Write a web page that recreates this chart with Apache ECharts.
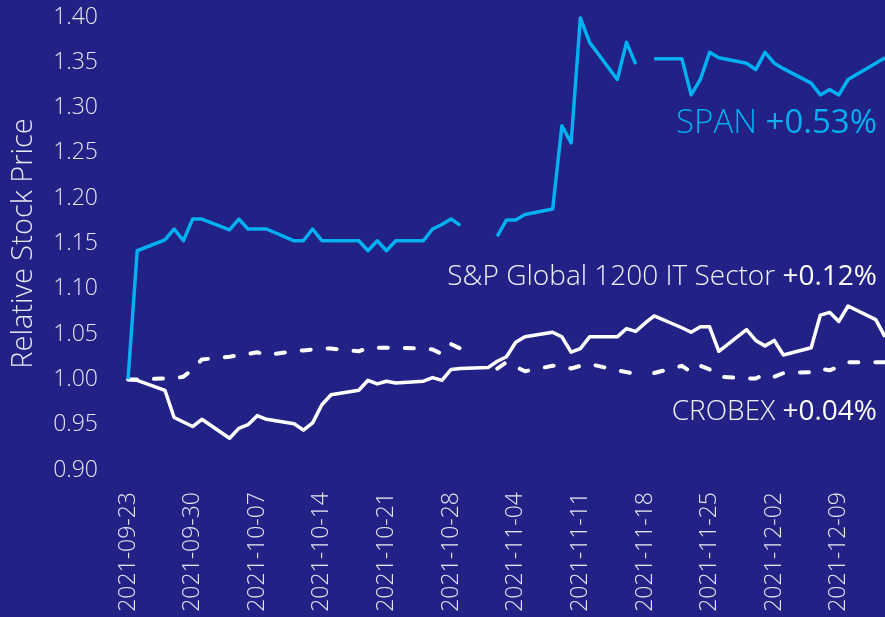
<!DOCTYPE html>
<html>
<head>
<meta charset="utf-8">
<script src="https://cdn.jsdelivr.net/npm/echarts@6/dist/echarts.min.js"></script>
<style>
html,body{margin:0;padding:0;background:#222286;}
#chart{width:885px;height:617px;}
</style>
</head>
<body>
<div id="chart"></div>
<script>
// Trading days
const dates = [
 '2021-09-23','2021-09-24','2021-09-27','2021-09-28','2021-09-29','2021-09-30',
 '2021-10-01','2021-10-04','2021-10-05','2021-10-06','2021-10-07','2021-10-08','2021-10-11','2021-10-12','2021-10-13','2021-10-14','2021-10-15','2021-10-18','2021-10-19','2021-10-20','2021-10-21','2021-10-22','2021-10-25','2021-10-26','2021-10-27','2021-10-28','2021-10-29',
 '2021-11-01','2021-11-02','2021-11-03','2021-11-04','2021-11-05','2021-11-08','2021-11-09','2021-11-10','2021-11-11','2021-11-12','2021-11-15','2021-11-16','2021-11-17','2021-11-18','2021-11-19','2021-11-22','2021-11-23','2021-11-24','2021-11-25','2021-11-26','2021-11-29','2021-11-30',
 '2021-12-01','2021-12-02','2021-12-03','2021-12-06','2021-12-07','2021-12-08','2021-12-09','2021-12-10','2021-12-13','2021-12-14'
];
const spanValues = [
 1.000,1.142,1.154,1.166,1.153,1.177,
 1.177,1.165,1.177,1.166,1.166,1.166,1.153,1.153,1.166,1.153,1.153,1.153,1.142,1.153,1.142,1.153,1.153,1.166,1.171,1.177,1.170,
 null,1.158,1.176,1.176,1.182,1.188,1.280,1.261,1.399,1.372,1.331,1.372,1.348,null,1.354,1.354,1.314,1.331,1.361,1.355,1.349,1.342,
 1.361,1.349,1.343,1.327,1.314,1.320,1.314,1.331,1.349,1.355
];
const spItValues = [
 1.000,0.999,0.988,0.958,0.953,0.948,
 0.956,0.935,0.946,0.950,0.960,0.956,0.951,0.944,0.952,0.972,0.983,0.988,0.999,0.995,0.998,0.996,0.998,1.002,0.999,1.011,1.012,
 1.013,1.020,1.025,1.041,1.047,1.052,1.047,1.030,1.034,1.047,1.047,1.056,1.053,1.062,1.070,1.057,1.052,1.058,1.058,1.031,1.055,1.043,
 1.037,1.043,1.027,1.035,1.071,1.074,1.064,1.081,1.066,1.047
];
const crobexValues = [
 1.000,1.000,1.001,1.001,1.003,1.011,
 1.022,1.025,1.027,1.028,1.030,1.027,1.031,1.032,1.033,1.034,1.034,1.031,1.035,1.035,1.035,1.035,1.034,1.033,1.028,1.039,1.034,
 null,1.012,1.019,1.014,1.009,1.015,1.015,1.012,1.015,1.017,1.010,1.008,1.006,null,1.007,1.015,1.008,1.015,1.011,1.003,1.001,1.001,
 1.006,1.003,1.007,1.008,1.012,1.010,1.014,1.019,1.019,1.019
];
const yTicks = ['0.90','0.95','1.00','1.05','1.10','1.15','1.20','1.25','1.30','1.35','1.40'];
const startDate = '2021-09-23';
const endDate = '2021-12-14';

const DAY = 86400000;
const t0 = Date.parse(startDate);
function dayIndex(d){ return Math.round((Date.parse(d) - t0) / DAY); }
function pairs(vals){ return dates.map((d,i)=>[dayIndex(d), vals[i]]); }
function fmtDay(v){
  const dt = new Date(t0 + v*DAY);
  const m = String(dt.getUTCMonth()+1).padStart(2,'0');
  const dd = String(dt.getUTCDate()).padStart(2,'0');
  return dt.getUTCFullYear()+'-'+m+'-'+dd;
}

const FONT = 'Open Sans';
const LABEL = '#e6e6f0';
const SPAN_C = '#00b0f0';

const chart = echarts.init(document.getElementById('chart'));
chart.setOption({
  backgroundColor: '#222286',
  animation: false,
  grid: {left: 128, right: 0, top: 17, bottom: 147, containLabel: false},
  xAxis: {
    type: 'value',
    min: 0, max: dayIndex(endDate), interval: 7,
    axisLine: {show: false}, axisTick: {show: false}, splitLine: {show: false},
    axisLabel: {rotate: 90, margin: 22, color: LABEL, fontFamily: FONT, fontSize: 23, fontWeight: 300,
      formatter: v => fmtDay(v), showMaxLabel: false}
  },
  yAxis: {
    type: 'value', min: 0.9, max: 1.4, interval: 0.05,
    axisLine: {show: false}, axisTick: {show: false}, splitLine: {show: false},
    axisLabel: {margin: 30, color: LABEL, fontFamily: FONT, fontSize: 23, fontWeight: 300,
      formatter: v => yTicks[Math.round((v - 0.9) / 0.05)]},
    name: 'Relative Stock Price', nameLocation: 'middle', nameGap: 90,
    nameTextStyle: {color: LABEL, fontFamily: FONT, fontSize: 29, fontWeight: 300}
  },
  series: [
    {name: 'CROBEX', type: 'line', data: pairs(crobexValues), showSymbol: false, connectNulls: false,
     lineStyle: {color: '#ffffff', width: 4, type: [9, 17], cap: 'round', join: 'round'}, z: 2},
    {name: 'S&P Global 1200 IT Sector', type: 'line', data: pairs(spItValues), showSymbol: false,
     lineStyle: {color: '#ffffff', width: 3.5, join: 'round'}, z: 3},
    {name: 'SPAN', type: 'line', data: pairs(spanValues), showSymbol: false, connectNulls: false,
     lineStyle: {color: SPAN_C, width: 3.5, join: 'round'}, z: 4}
  ],
  graphic: [
    {type: 'text', right: 8, top: 107, style: {
      text: '{a|SPAN }{b|+0.53%}',
      rich: {a: {fontFamily: FONT, fontSize: 33, fontWeight: 300, fill: SPAN_C},
             b: {fontFamily: FONT, fontSize: 33, fontWeight: 500, fill: SPAN_C}}}},
    {type: 'text', right: 8, top: 263, style: {
      text: '{a|S&P Global 1200 IT Sector }{b|+0.12%}',
      rich: {a: {fontFamily: FONT, fontSize: 28, fontWeight: 300, fill: '#f0f0f8'},
             b: {fontFamily: FONT, fontSize: 28, fontWeight: 500, fill: '#ffffff'}}}},
    {type: 'text', right: 8, top: 398, style: {
      text: '{a|CROBEX }{b|+0.04%}',
      rich: {a: {fontFamily: FONT, fontSize: 28, fontWeight: 300, fill: '#f0f0f8'},
             b: {fontFamily: FONT, fontSize: 28, fontWeight: 500, fill: '#ffffff'}}}}
  ]
});
</script>
</body>
</html>
